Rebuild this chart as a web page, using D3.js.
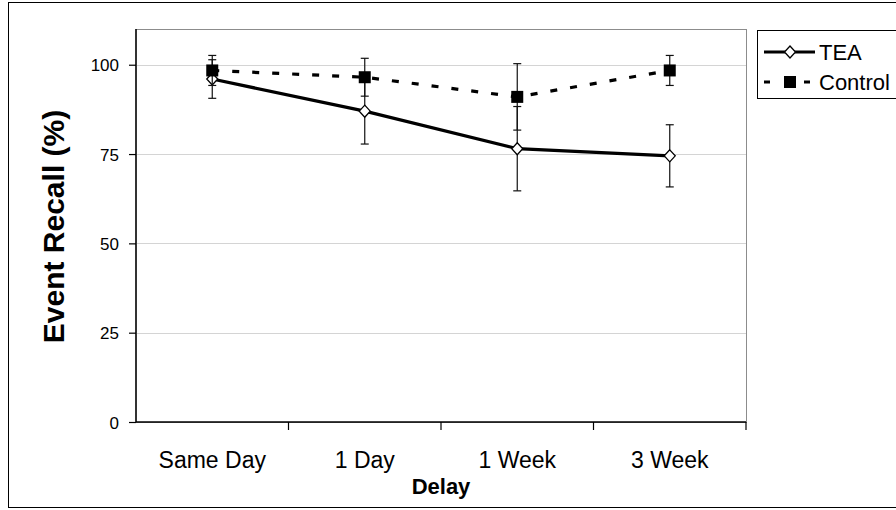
<!DOCTYPE html>
<html>
<head>
<meta charset="utf-8">
<script src="https://cdn.jsdelivr.net/npm/d3@7"></script>
<style>
  html, body { margin: 0; padding: 0; background: #fff; }
  svg { display: block; }
  text { font-family: "Liberation Sans", Arial, sans-serif; fill: #000; }
</style>
</head>
<body>
<svg id="chart" width="896" height="510"></svg>
<script>
// ---- data ----
const categories = ["Same Day", "1 Day", "1 Week", "3 Week"];
const teaValues = [96.0, 87.0, 76.5, 74.5];
const teaErrors = [5.4, 9.2, 11.8, 8.7];
const controlValues = [98.4, 96.5, 91.0, 98.4];
const controlErrors = [4.2, 5.3, 9.3, 4.2];
const yTicks = [0, 25, 50, 75, 100];
const seriesNames = ["TEA", "Control"];

// ---- layout ----
const plot = { left: 136, right: 746, top: 29, bottom: 422 };

const svg = d3.select("#chart");

// outer chart border
svg.append("rect")
  .attr("x", 8.5).attr("y", 2.5)
  .attr("width", 1000).attr("height", 505)
  .attr("fill", "#fff").attr("stroke", "#000").attr("stroke-width", 1);

const x = d3.scaleBand().domain(categories).range([plot.left, plot.right]).padding(0);
const y = d3.scaleLinear().domain([0, 110]).range([plot.bottom, plot.top]);
const cx = c => x(c) + x.bandwidth() / 2;

// plot-area border (grey)
svg.append("rect")
  .attr("x", plot.left).attr("y", plot.top + 0.5)
  .attr("width", plot.right - plot.left + 0.5).attr("height", plot.bottom - plot.top)
  .attr("fill", "none").attr("stroke", "#8c8c8c").attr("stroke-width", 1);

// gridlines
svg.append("g")
  .selectAll("line")
  .data(yTicks.filter(t => t > 0))
  .join("line")
  .attr("x1", plot.left).attr("x2", plot.right)
  .attr("y1", d => Math.round(y(d)) + 0.5).attr("y2", d => Math.round(y(d)) + 0.5)
  .attr("stroke", "#d4d4d4").attr("stroke-width", 1);

// y axis
const yAxis = d3.axisLeft(y).tickValues(yTicks).tickSize(7).tickPadding(10).tickFormat(d3.format("d"));
const gy = svg.append("g").attr("transform", `translate(${plot.left},0)`).call(yAxis);
gy.select(".domain").attr("stroke", "#000").attr("stroke-width", 1.5).attr("d", `M0,${plot.top}V${plot.bottom}`);
gy.selectAll(".tick line").attr("stroke", "#000").attr("stroke-width", 1.2);
gy.selectAll(".tick text").attr("font-size", "17px").attr("font-family", "Liberation Sans, Arial, sans-serif").attr("dy", "0.36em");

// x axis
const xAxis = d3.axisBottom(x).tickSize(0).tickPadding(0);
const gx = svg.append("g").attr("transform", `translate(0,${plot.bottom})`).call(xAxis);
gx.select(".domain").attr("stroke", "#000").attr("stroke-width", 1.5).attr("d", `M${plot.left},0H${plot.right}`);
gx.selectAll(".tick text")
  .attr("font-size", "23px").attr("font-family", "Liberation Sans, Arial, sans-serif")
  .attr("dy", null).attr("y", 46);
// category boundary ticks
const boundaries = categories.map(c => x(c)).concat([plot.right]);
gx.append("g").selectAll("line").data(boundaries.slice(1)).join("line")
  .attr("x1", d => d).attr("x2", d => d).attr("y1", 0).attr("y2", 8)
  .attr("stroke", "#000").attr("stroke-width", 1.2);

// axis titles
svg.append("text")
  .attr("transform", `translate(64,${(plot.top + plot.bottom) / 2 + 1}) rotate(-90)`)
  .attr("text-anchor", "middle").attr("font-size", "30px").attr("font-weight", "bold")
  .text("Event Recall (%)");
svg.append("text")
  .attr("x", (plot.left + plot.right) / 2).attr("y", 494)
  .attr("text-anchor", "middle").attr("font-size", "22px").attr("font-weight", "bold")
  .text("Delay");

// series
const series = [
  { name: seriesNames[0], values: teaValues, errors: teaErrors, dash: null, marker: "diamond" },
  { name: seriesNames[1], values: controlValues, errors: controlErrors, dash: "7,13", marker: "square" }
];

const line = d3.line().x(d => cx(d.c)).y(d => y(d.v));

function drawMarker(g, type, px, py) {
  if (type === "diamond") {
    g.append("path")
      .attr("d", `M${px},${py - 6}L${px + 5.5},${py}L${px},${py + 6}L${px - 5.5},${py}Z`)
      .attr("fill", "#fff").attr("stroke", "#000").attr("stroke-width", 1.3);
  } else {
    g.append("rect")
      .attr("x", px - 6).attr("y", py - 6).attr("width", 12).attr("height", 12)
      .attr("fill", "#000");
  }
}

series.forEach(s => {
  const pts = categories.map((c, i) => ({ c, v: s.values[i], e: s.errors[i] }));
  const g = svg.append("g");
  // error bars
  const eg = g.append("g").attr("stroke", "#111").attr("stroke-width", 1.2);
  pts.forEach(p => {
    const px = cx(p.c);
    eg.append("line").attr("x1", px).attr("x2", px).attr("y1", y(p.v + p.e)).attr("y2", y(p.v - p.e));
    eg.append("line").attr("x1", px - 4).attr("x2", px + 4).attr("y1", y(p.v + p.e)).attr("y2", y(p.v + p.e));
    eg.append("line").attr("x1", px - 4).attr("x2", px + 4).attr("y1", y(p.v - p.e)).attr("y2", y(p.v - p.e));
  });
  g.append("path").datum(pts).attr("d", line)
    .attr("fill", "none").attr("stroke", "#000").attr("stroke-width", 3.2)
    .attr("stroke-dasharray", s.dash);
  pts.forEach(p => drawMarker(g, s.marker, cx(p.c), y(p.v)));
});

// legend
const lg = svg.append("g");
lg.append("rect").attr("x", 757.5).attr("y", 30.5).attr("width", 200).attr("height", 68)
  .attr("fill", "#fff").attr("stroke", "#000").attr("stroke-width", 1);
series.forEach((s, i) => {
  const ly = 52 + i * 30;
  lg.append("line").attr("x1", 764).attr("x2", 815).attr("y1", ly).attr("y2", ly)
    .attr("stroke", "#000").attr("stroke-width", 3.2)
    .attr("stroke-dasharray", s.dash ? "6,14" : null);
  drawMarker(lg, s.marker, 790, ly);
  lg.append("text").attr("x", 819).attr("y", ly + 8)
    .attr("font-size", "22px").text(s.name);
});
</script>
</body>
</html>
